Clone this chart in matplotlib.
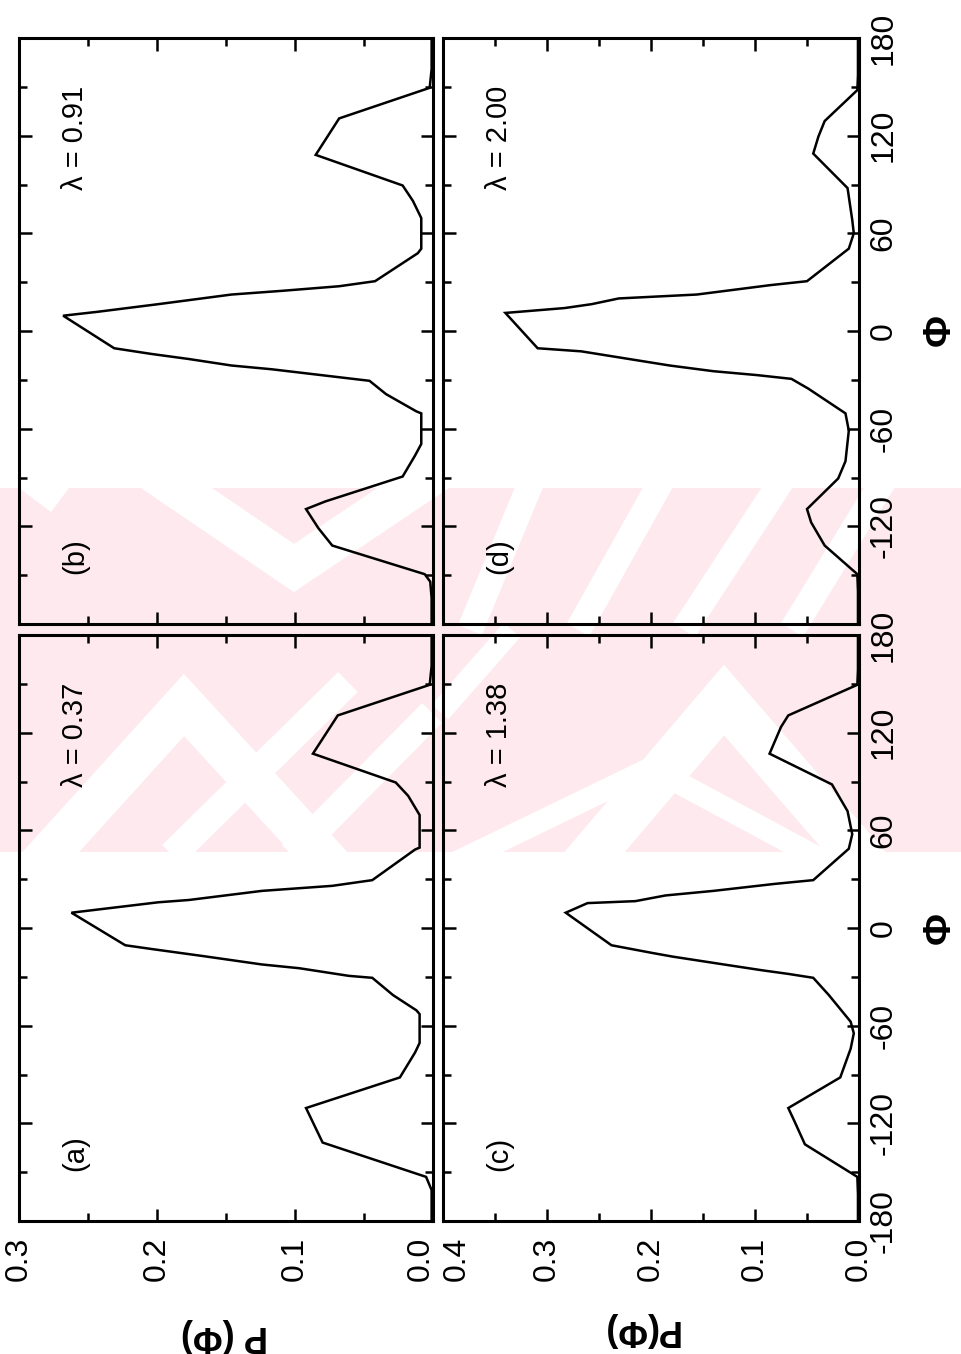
"""
Torsion-angle distributions P(phi) for four values of lambda, 2x2 panels,
laid out sideways (phi runs bottom-to-top, P runs right-to-left).
"""

import matplotlib
matplotlib.use("Agg")
import matplotlib.pyplot as plt
from matplotlib.patches import Rectangle
from matplotlib.lines import Line2D
from matplotlib.ticker import MultipleLocator, FixedLocator
from matplotlib.transforms import ScaledTranslation

plt.rcParams["font.family"] = ["Liberation Sans", "DejaVu Sans"]
plt.rcParams["axes.unicode_minus"] = False

# ---- data -------------------------------------------------------------
lambdas = ["0.37", "0.91", "1.38", "2.00"]
panel_tags = ["(a)", "(b)", "(c)", "(d)"]

phi_a = [180, 161, 149.4, 130.6, 107.1, 89.4, 81.2, 69.4, 49.4, 48.2, 29.4, 25.9, 22.8,
         17.2, 15.8, 9.4, -10.6, -12.9, -17.2, -22.4, -24.7, -29.4, -30.6, -41.2, -50.6,
         -52.9, -70.6, -76.5, -91.8, -110.6, -131.8, -152.9, -161, -180]
p_a = [0.001, 0.001, 0.0024, 0.069, 0.087, 0.027, 0.018, 0.0097, 0.0097, 0.013, 0.044,
       0.073, 0.124, 0.177, 0.199, 0.262, 0.223, 0.204, 0.167, 0.124, 0.097, 0.061, 0.044,
       0.029, 0.012, 0.0097, 0.0097, 0.013, 0.024, 0.092, 0.080, 0.005, 0.001, 0.001]

phi_b = [180, 161, 149.4, 130.6, 108.2, 89.4, 80, 69.4, 50.6, 47.8, 30.6, 27.5, 24.7,
         22.4, 16.5, 11.8, 9.4, -10.6, -14.1, -17.2, -21.2, -23.5, -28.2, -30.6, -38.8,
         -49.4, -50.6, -69.4, -76.5, -89.4, -104.7, -109.4, -121.2, -131.8, -149.4, -154,
         -164, -180]
p_b = [0.001, 0.001, 0.0024, 0.068, 0.085, 0.022, 0.0146, 0.0085, 0.0085, 0.011, 0.042,
       0.068, 0.109, 0.146, 0.199, 0.243, 0.268, 0.231, 0.204, 0.177, 0.146, 0.117, 0.070,
       0.046, 0.034, 0.012, 0.0085, 0.0085, 0.013, 0.022, 0.078, 0.092, 0.083, 0.073,
       0.006, 0.002, 0.001, 0.001]

phi_c = [180, 158.8, 149.4, 130.6, 123.5, 107.1, 88.2, 71.8, 57.6, 48.7, 29.4, 27.1,
         22.8, 20.0, 16.5, 15.3, 9.4, -10.6, -15.3, -17.6, -22.4, -25.9, -28.2, -30.6,
         -41.2, -57.6, -64.7, -74.1, -91.8, -110.6, -118.8, -132.9, -152.9, -163.5, -180]
p_c = [0.001, 0.001, 0.0016, 0.068, 0.075, 0.086, 0.026, 0.011, 0.0065, 0.0098, 0.044,
       0.081, 0.140, 0.186, 0.215, 0.261, 0.282, 0.238, 0.199, 0.179, 0.130, 0.094, 0.068,
       0.044, 0.029, 0.008, 0.005, 0.008, 0.018, 0.068, 0.062, 0.052, 0.0016, 0.001, 0.001]

phi_d = [180, 157, 148, 129, 119.5, 109, 87.8, 68.2, 60, 50.6, 30.6, 28.2, 22.4, 20,
         16.5, 14.1, 11.1, -10.6, -12.5, -16.5, -21.2, -24.7, -27.1, -29.4, -35.3, -50.6,
         -61.2, -80, -90.6, -109.4, -117.6, -131.8, -149.4, -160, -180]
p_d = [0.001, 0.001, 0.0016, 0.033, 0.039, 0.044, 0.011, 0.0065, 0.005, 0.0098, 0.050,
       0.085, 0.156, 0.231, 0.257, 0.283, 0.340, 0.309, 0.267, 0.228, 0.182, 0.140, 0.098,
       0.065, 0.049, 0.013, 0.0098, 0.013, 0.020, 0.050, 0.046, 0.033, 0.0016, 0.001, 0.001]

p_max = [0.3, 0.3, 0.4, 0.4]
phi_ticks_c = [-180, -120, -60, 0, 60, 120, 180]
phi_ticks_d = [-120, -60, 0, 60, 120, 180]

# ---- figure -----------------------------------------------------------
W, H = 962, 1354
fig = plt.figure(figsize=(W / 100, H / 100), dpi=100)


def fx(x):
    return x / W


def fy(y):
    return 1 - y / H


def axes_px(x0, y0, x1, y1):
    return fig.add_axes([fx(x0), fy(y1), fx(x1) - fx(x0), fy(y0) - fy(y1)])


# pale pink background stamp with white chevron cut-outs
pink = "#fde9ee"
band = Rectangle((0, fy(852)), 1, fy(488) - fy(852), transform=fig.transFigure,
                 facecolor=pink, edgecolor="none", zorder=-6)
fig.add_artist(band)
stripes = [
    ([(150, 470), (294, 568), (440, 470)], 40),
    ([(20, 470), (60, 500)], 30),
    ([(30, 875), (184, 705), (340, 875)], 42),
    ([(575, 875), (724, 700), (875, 875)], 46),
    ([(430, 875), (651, 768), (850, 875)], 22),
    ([(440, 712), (512, 630)], 22),
    ([(172, 855), (348, 682)], 28),
    ([(292, 855), (432, 713)], 28),
    ([(470, 630), (532, 480)], 26),
    ([(578, 630), (662, 480)], 26),
    ([(684, 630), (782, 480)], 26),
    ([(792, 630), (884, 480)], 26),
]
for pts, w in stripes:
    ln = Line2D([fx(p[0]) for p in pts], [fy(p[1]) for p in pts], color="white",
                lw=w * 0.72, solid_joinstyle="miter", solid_capstyle="butt",
                transform=fig.transFigure, zorder=-5)
    ln.set_clip_path(band)
    fig.add_artist(ln)

boxes = {"(a)": (19, 635, 433, 1221), "(b)": (19, 38, 433, 624),
         "(c)": (443, 635, 859, 1221), "(d)": (443, 38, 859, 624)}
curves = [(phi_a, p_a), (phi_b, p_b), (phi_c, p_c), (phi_d, p_d)]

for i, tag in enumerate(panel_tags):
    ax = axes_px(*boxes[tag])
    ax.set_facecolor("none")
    phi, pv = curves[i]
    ax.plot(pv, phi, color="black", lw=1.8, solid_joinstyle="miter")
    ax.set_xlim(p_max[i], 0)
    ax.set_ylim(-180, 180)
    for s in ax.spines.values():
        s.set_linewidth(2.2)

    ax.xaxis.set_major_locator(MultipleLocator(0.1))
    ax.xaxis.set_minor_locator(MultipleLocator(0.05))
    ax.yaxis.set_major_locator(MultipleLocator(60))
    ax.yaxis.set_minor_locator(MultipleLocator(30))
    ax.tick_params(which="both", direction="in", top=True, bottom=True, left=True,
                   right=True, width=1.8, labelsize=23)
    ax.tick_params(which="major", length=9)
    ax.tick_params(which="minor", length=5.5)

    show_p = tag in ("(a)", "(c)")
    show_phi = tag in ("(c)", "(d)")
    ax.tick_params(axis="x", labelbottom=show_p, labeltop=False, labelrotation=90, pad=11)
    ax.tick_params(axis="y", labelleft=False, labelright=show_phi, labelrotation=90, pad=7)
    if show_p:
        ax.xaxis.set_major_formatter(lambda v, pos: f"{v:.1f}")
    if tag == "(c)":
        ax.yaxis.set_major_locator(FixedLocator(phi_ticks_c))
    elif tag == "(d)":
        ax.yaxis.set_major_locator(FixedLocator(phi_ticks_d))
    for lab in ax.get_yticklabels():
        lab.set_verticalalignment("center")

    ax.text(0.135, 0.115, tag, transform=ax.transAxes, rotation=90,
            ha="center", va="center", fontsize=21)
    ax.text(0.135, 0.83, "\u03bb = " + lambdas[i], transform=ax.transAxes, rotation=90,
            ha="center", va="center", fontsize=21)

    # nudge the two P labels that meet between the columns
    if show_p:
        fig.canvas.draw()
        labs = ax.get_xticklabels()
        if tag == "(a)":
            edge = [l for l in labs if l.get_text() == "0.0"]
            dx = -12
        else:
            edge = [l for l in labs if l.get_text() == "0.4"]
            dx = 14
        for l in edge:
            l.set_transform(l.get_transform() + ScaledTranslation(dx / 100, 0, fig.dpi_scale_trans))

# axis titles
fig.text(fx(940), fy(330), "\u03a6", rotation=90, ha="center", va="center",
         fontsize=28, fontweight="bold")
fig.text(fx(940), fy(928), "\u03a6", rotation=90, ha="center", va="center",
         fontsize=28, fontweight="bold")
fig.text(fx(225), fy(1335), "P (\u03a6)", rotation=180, ha="center", va="center",
         fontsize=26, fontweight="bold")
fig.text(fx(640), fy(1330), "P(\u03a6)", rotation=180, ha="center", va="center",
         fontsize=26, fontweight="bold")

fig.savefig("out.png", dpi=100, facecolor="white")
